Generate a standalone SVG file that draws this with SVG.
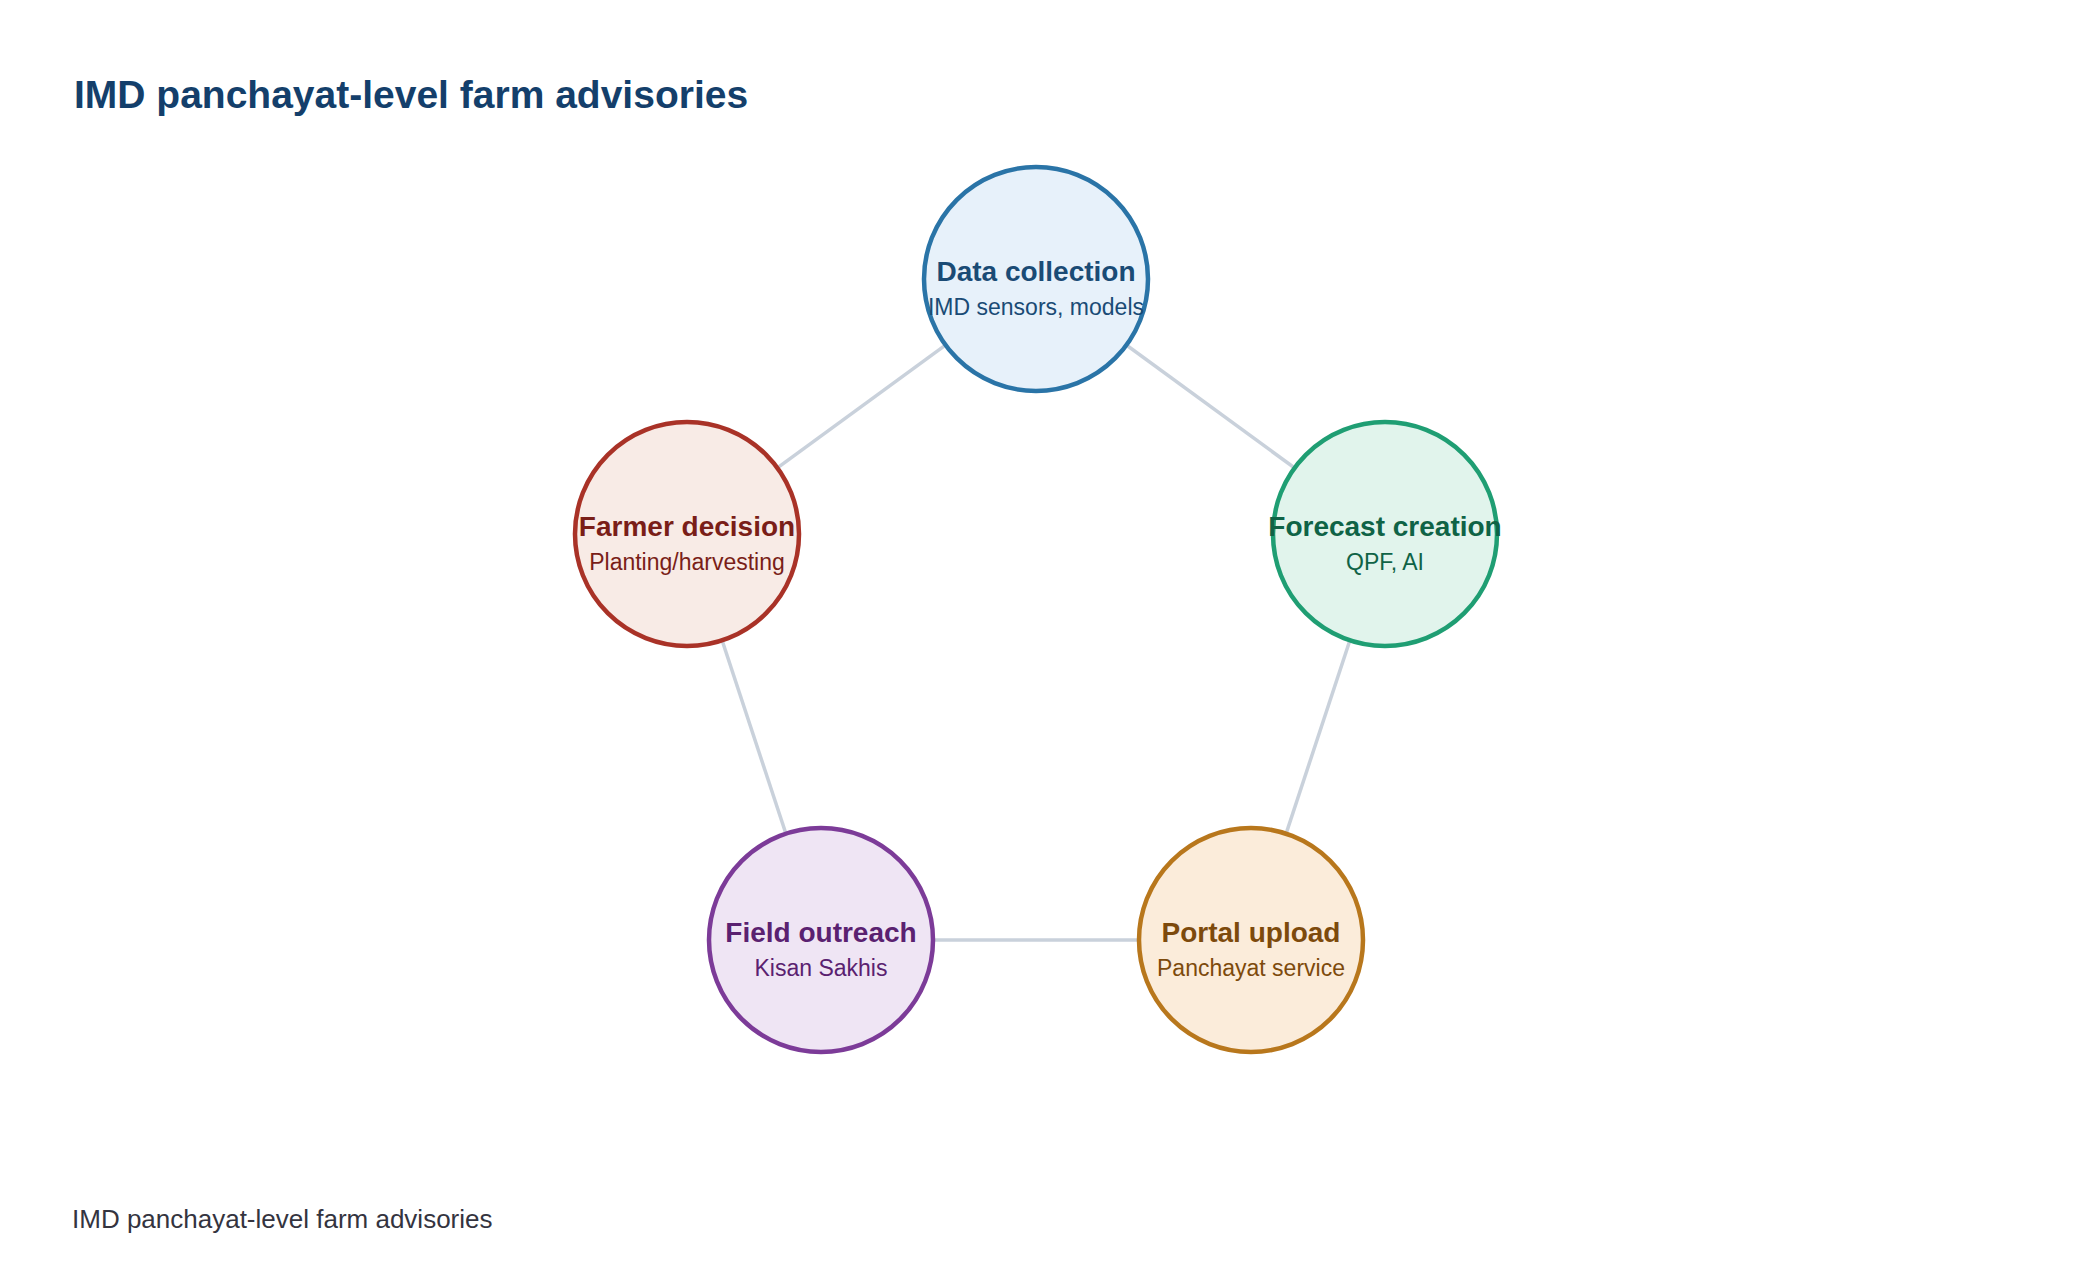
<svg xmlns="http://www.w3.org/2000/svg" width="2080" height="1284" viewBox="0 0 2080 1284">
<style>
.bg{fill:#ffffff}
.edge{stroke:#c9d1db;stroke-width:3.5;fill:none}
.node{stroke-width:4.5}
.t{font-family:"Liberation Sans",Arial,sans-serif;font-weight:bold;font-size:28px;text-anchor:middle}
.s{font-family:"Liberation Sans",Arial,sans-serif;font-size:23px;text-anchor:middle}
.title{font-family:"Liberation Sans",Arial,sans-serif;font-weight:bold;font-size:39px;fill:#143f6b}
.foot{font-family:"Liberation Sans",Arial,sans-serif;font-size:26px;fill:#34343f}
</style>
<rect class="bg" x="0" y="0" width="2080" height="1284"/>
<text class="title" x="74" y="108">IMD panchayat-level farm advisories</text>
<g id="connectors">
<line class="edge" x1="1036" y1="279" x2="1385" y2="534"/>
<line class="edge" x1="1385" y1="534" x2="1251" y2="940"/>
<line class="edge" x1="1251" y1="940" x2="821" y2="940"/>
<line class="edge" x1="821" y1="940" x2="687" y2="534"/>
<line class="edge" x1="687" y1="534" x2="1036" y2="279"/>
</g>
<g id="node-data">
<circle class="node" cx="1036" cy="279" r="112" fill="#e7f1fa" stroke="#2a74a7"/>
<text class="t" x="1036" y="281" fill="#1a4b75">Data collection</text>
<text class="s" x="1036" y="315" fill="#1a4b75">IMD sensors, models</text>
</g>
<g id="node-forecast">
<circle class="node" cx="1385" cy="534" r="112" fill="#e1f4ec" stroke="#1f9e73"/>
<text class="t" x="1385" y="536" fill="#0f6346">Forecast creation</text>
<text class="s" x="1385" y="570" fill="#0f6346">QPF, AI</text>
</g>
<g id="node-portal">
<circle class="node" cx="1251" cy="940" r="112" fill="#fbecda" stroke="#b8771c"/>
<text class="t" x="1251" y="942" fill="#7d4a0c">Portal upload</text>
<text class="s" x="1251" y="976" fill="#7d4a0c">Panchayat service</text>
</g>
<g id="node-field">
<circle class="node" cx="821" cy="940" r="112" fill="#efe5f4" stroke="#7c3b98"/>
<text class="t" x="821" y="942" fill="#5a2170">Field outreach</text>
<text class="s" x="821" y="976" fill="#5a2170">Kisan Sakhis</text>
</g>
<g id="node-farmer">
<circle class="node" cx="687" cy="534" r="112" fill="#f8ebe6" stroke="#a93227"/>
<text class="t" x="687" y="536" fill="#7a1e18">Farmer decision</text>
<text class="s" x="687" y="570" fill="#7a1e18">Planting/harvesting</text>
</g>
<text class="foot" x="72" y="1228">IMD panchayat-level farm advisories</text>
</svg>
